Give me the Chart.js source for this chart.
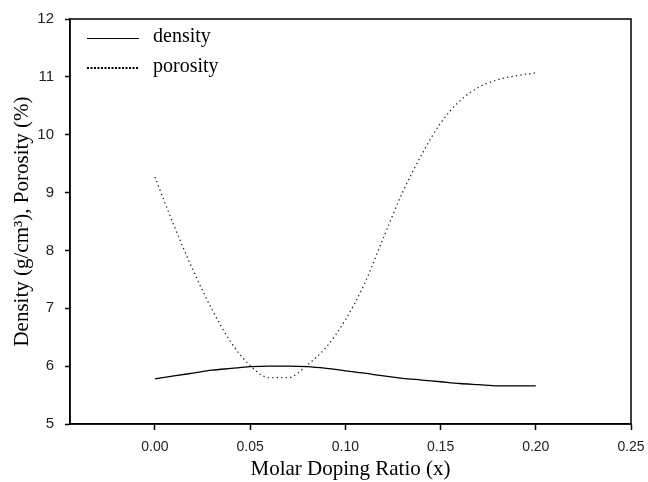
<!DOCTYPE html>
<html>
<head>
<meta charset="utf-8">
<script src="https://cdn.jsdelivr.net/npm/chart.js@4/dist/chart.umd.min.js"></script>
<style>
html,body{margin:0;padding:0;background:#fff;}
canvas{display:block;}
</style>
</head>
<body>
<canvas id="c" width="648" height="482"></canvas>
<script>
const xValues = [0.00,0.01,0.02,0.03,0.04,0.05,0.06,0.07,0.08,0.09,0.10,0.11,0.12,0.13,0.14,0.15,0.16,0.17,0.18,0.19,0.20];
const density = [5.78,5.83,5.88,5.93,5.96,5.99,6.00,6.00,5.99,5.96,5.92,5.88,5.83,5.79,5.76,5.73,5.70,5.68,5.66,5.66,5.66];
const porosity = [9.27,8.43,7.66,6.98,6.41,6.01,5.80,5.80,6.02,6.33,6.80,7.42,8.22,9.00,9.65,10.20,10.58,10.82,10.95,11.02,11.07];
const xTicks = [0.00,0.05,0.10,0.15,0.20,0.25];
const yTicks = [5,6,7,8,9,10,11,12];
const seriesLabels = ['density','porosity'];
const xTitle = 'Molar Doping Ratio (x)';
const yTitle = 'Density (g/cm\u00B3), Porosity (%)';

const toPts = arr => arr.map((v,i)=>({x:xValues[i], y:v}));

const frame = {
  id:'frame',
  afterDraw(chart){
    const {ctx, chartArea:a} = chart;
    ctx.save();
    ctx.strokeStyle = '#000';
    ctx.lineWidth = 1.5;
    ctx.strokeRect(a.left, a.top, a.right-a.left, a.bottom-a.top);
    // legend
    const ds = chart.data.datasets;
    ctx.font = '20px "Liberation Serif", "Times New Roman", serif';
    ctx.textBaseline = 'middle';
    ctx.fillStyle = '#000';
    const rows = [38.5, 68];
    ds.forEach((d,i)=>{
      ctx.beginPath();
      ctx.strokeStyle = '#000';
      ctx.lineWidth = i===0 ? 1 : 2.2;
      ctx.setLineDash(i===0 ? [] : [2,1.5]);
      ctx.moveTo(87, rows[i]);
      ctx.lineTo(139, rows[i]);
      ctx.stroke();
      ctx.setLineDash([]);
      ctx.fillText(d.label, 153, rows[i]-1.5);
    });
    ctx.restore();
  }
};

new Chart(document.getElementById('c'), {
  type:'line',
  data:{
    datasets:[
      {label:seriesLabels[0], data:toPts(density), borderColor:'#000', borderWidth:1.3, pointRadius:0, cubicInterpolationMode:'monotone', fill:false},
      {label:seriesLabels[1], data:toPts(porosity), borderColor:'#222', borderWidth:1.3, borderDash:[1.3,3.2], pointRadius:0, cubicInterpolationMode:'monotone', fill:false}
    ]
  },
  options:{
    responsive:false,
    animation:false,
    layout:{padding:{top:19,right:17,left:0,bottom:0}},
    plugins:{legend:{display:false}, tooltip:{enabled:false}},
    scales:{
      x:{
        type:'linear', min:-0.0446, max:0.25,
        afterBuildTicks(s){ s.ticks = xTicks.map(v=>({value:v})); },
        afterFit(s){ s.height = 58; s.paddingLeft = 0; s.paddingRight = 0; },
        grid:{drawOnChartArea:false, drawTicks:true, tickLength:6, color:'#000', tickWidth:1.5},
        border:{display:true, color:'#000', width:1.5},
        ticks:{color:'#222', font:{family:'"Liberation Sans", Arial, sans-serif', size:14}, padding:9, maxRotation:0,
          callback:v=>v.toFixed(2)},
        title:{display:true, text:xTitle, color:'#000', font:{family:'"Liberation Serif", "Times New Roman", serif', size:21}, padding:{top:0,bottom:0}}
      },
      y:{
        type:'linear', min:5, max:12,
        afterBuildTicks(s){ s.ticks = yTicks.map(v=>({value:v})); },
        afterFit(s){ s.width = 70; s.paddingTop = 0; s.paddingBottom = 0; },
        grid:{drawOnChartArea:false, drawTicks:true, tickLength:5, color:'#000', tickWidth:1.5},
        border:{display:true, color:'#000', width:1.5},
        ticks:{color:'#222', font:{family:'"Liberation Sans", Arial, sans-serif', size:15}, padding:11,
          callback:v=>String(v)},
        title:{display:true, text:yTitle, color:'#000', font:{family:'"Liberation Serif", "Times New Roman", serif', size:21}, padding:{top:10,bottom:4}}
      }
    }
  },
  plugins:[frame]
});
</script>
</body>
</html>
